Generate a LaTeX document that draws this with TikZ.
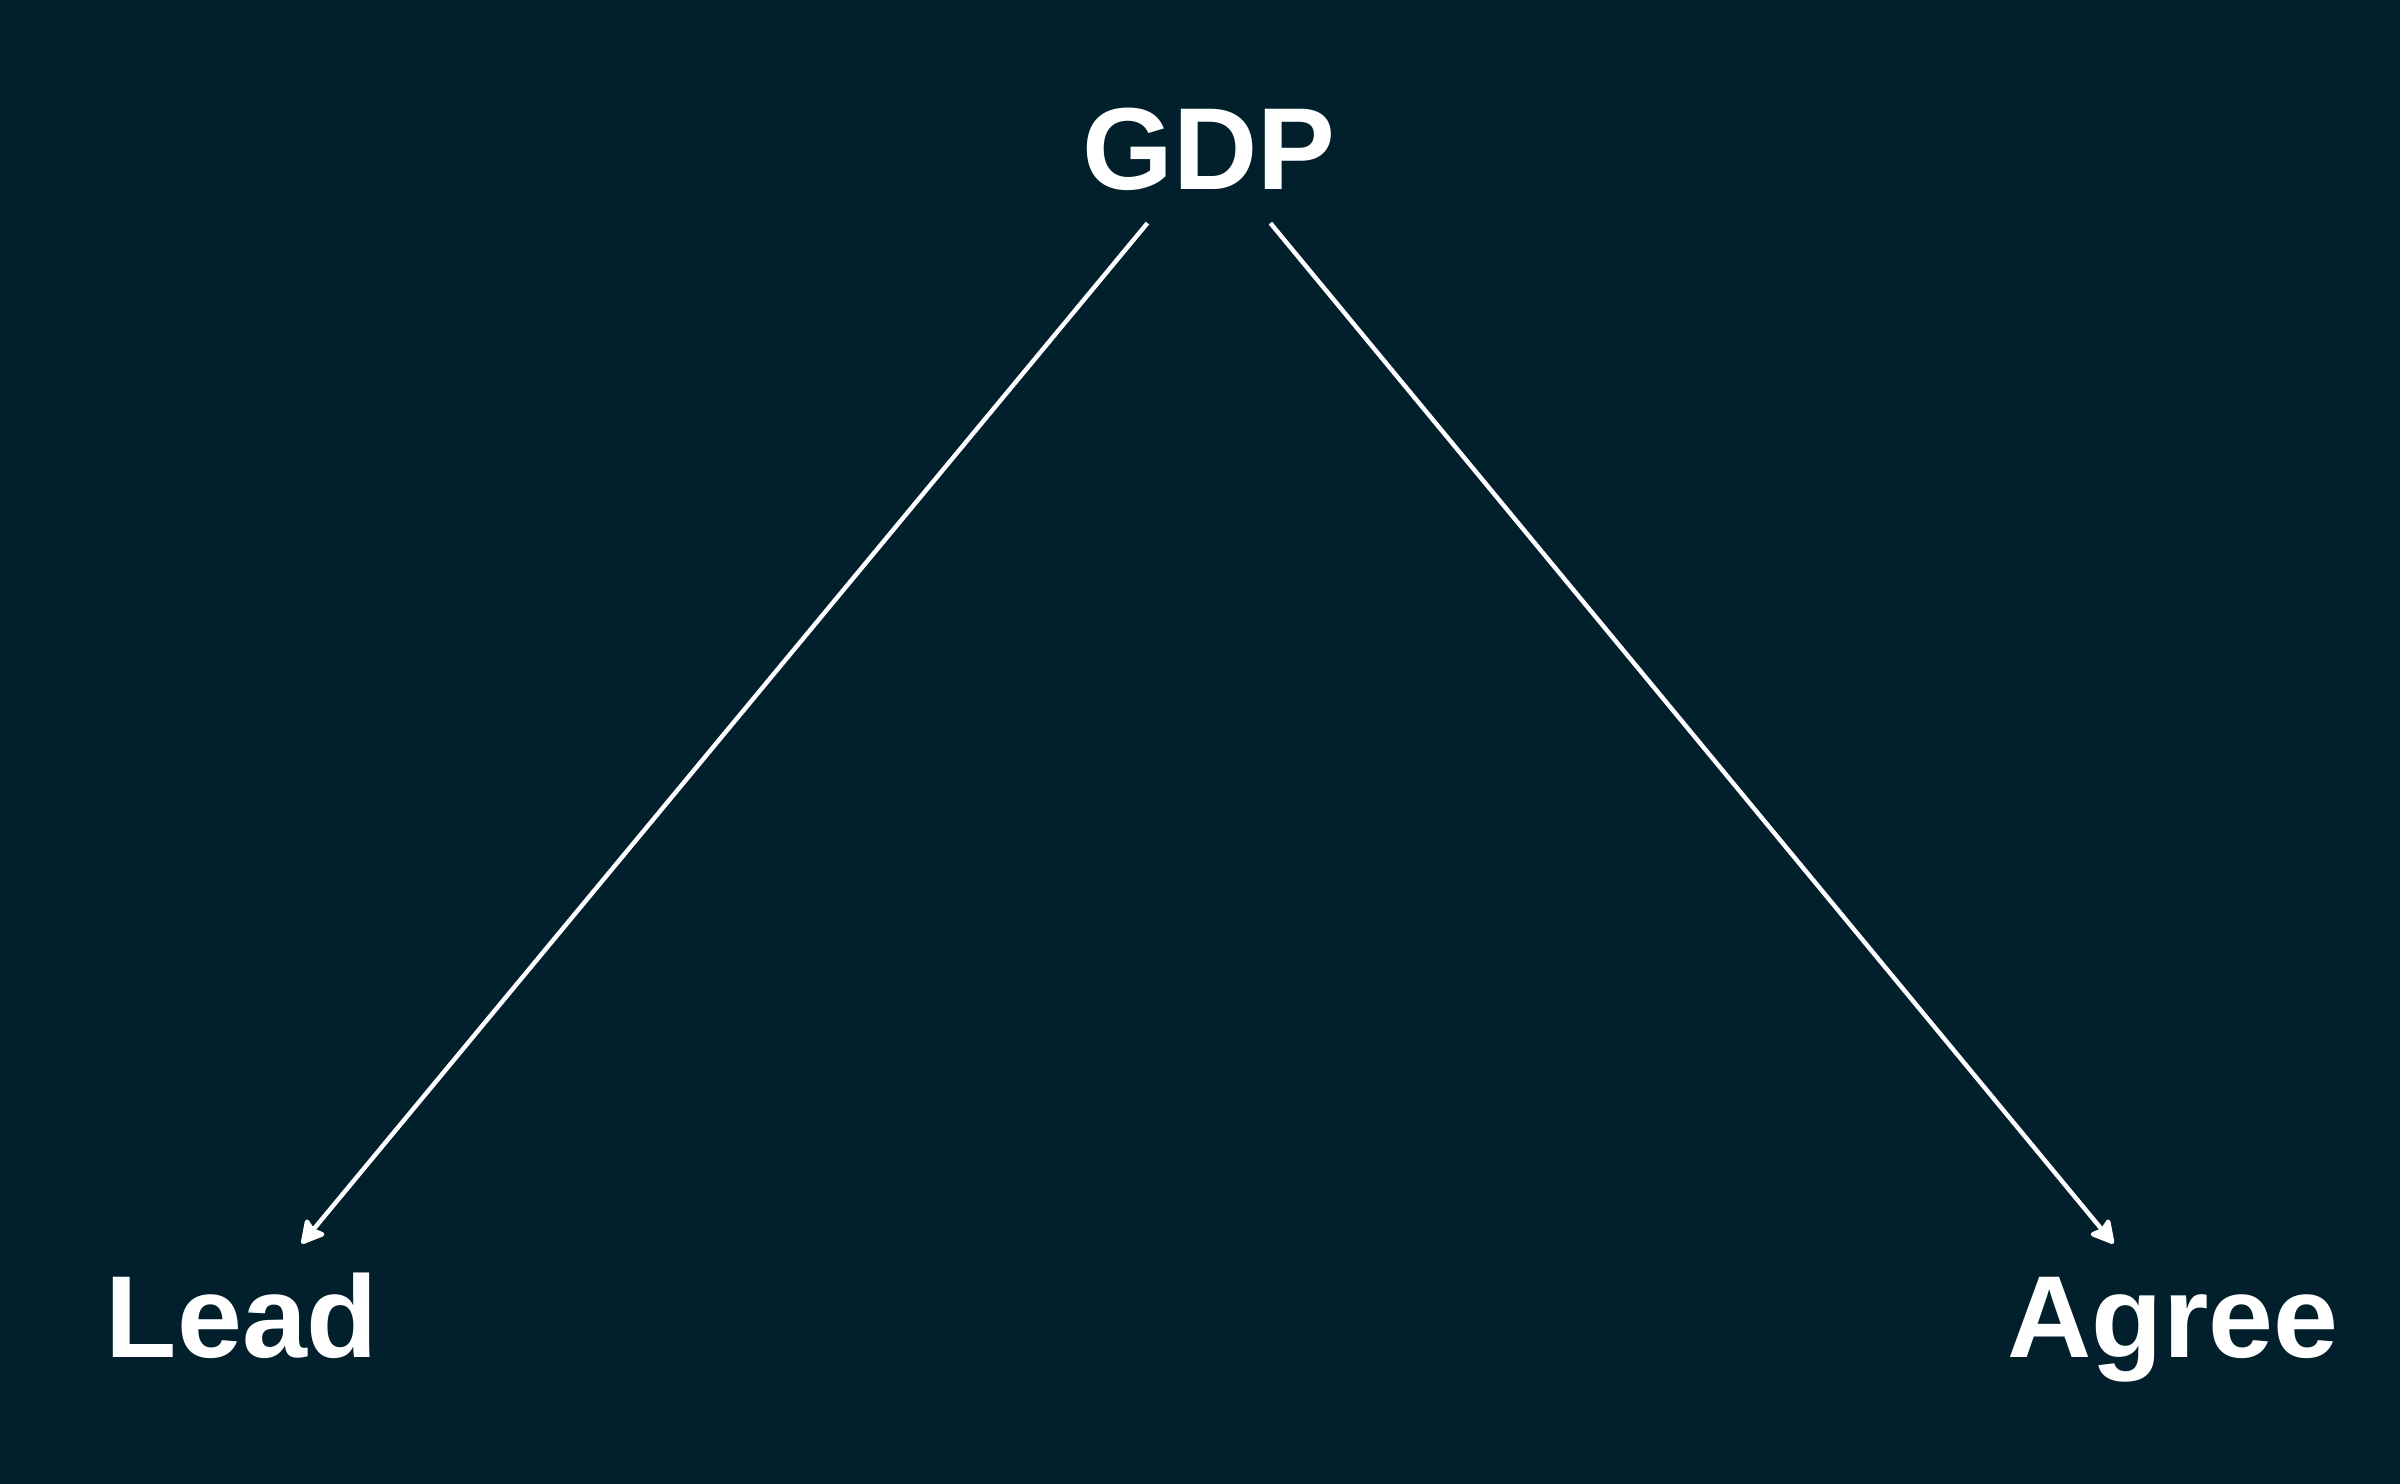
\documentclass[tikz,border=0pt]{standalone}
\usepackage{fontspec}
\setmainfont{Liberation Sans}
\usepackage{tikz}
\usetikzlibrary{arrows.meta}
\definecolor{bgdark}{RGB}{2,32,43}

\begin{document}
\begin{tikzpicture}[
    varname/.style={text=white,font=\bfseries\fontsize{33.2}{40}\selectfont,inner sep=0pt,outer sep=0pt,text height=23.5pt,text depth=0pt,anchor=base},
    causal/.style={-{Stealth[length=2.6mm,width=2.8mm,inset=0.4mm,round]},white,line width=1.25pt,shorten <=4.3mm,shorten >=4mm}
  ]
    \useasboundingbox (0,0) rectangle (24,14.83);
    \fill[bgdark] (-0.2,-0.2) rectangle (24.2,15.03);

    \node[varname] (gdp) at (12.09,12.93) {GDP};
    \node[varname] (lead) at (2.42,1.26) {Lead};
    \node[varname] (agree) at (21.73,1.26) {Agree};

    \draw [causal] (gdp) -- (lead);
    \draw [causal] (gdp) -- (agree);
  \end{tikzpicture}
\end{document}
